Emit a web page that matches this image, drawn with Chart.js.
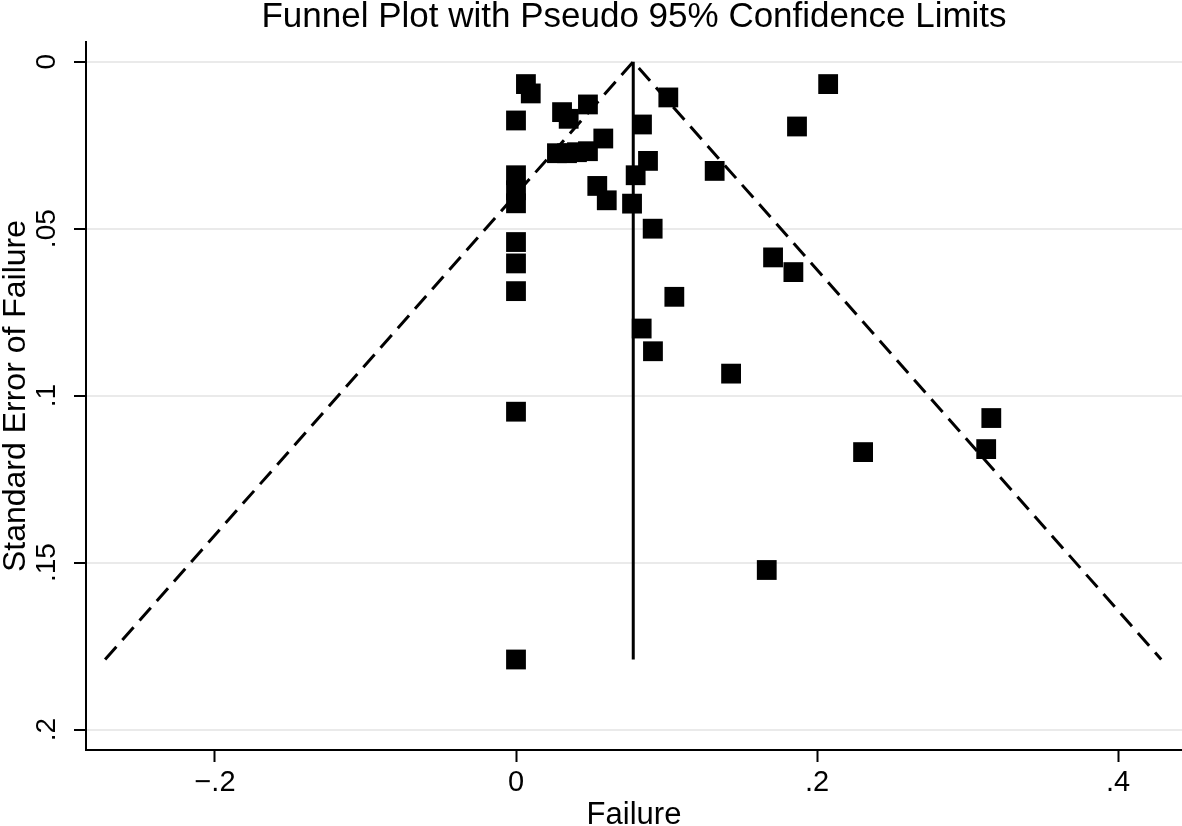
<!DOCTYPE html>
<html>
<head>
<meta charset="utf-8">
<title>Funnel Plot with Pseudo 95% Confidence Limits</title>
<script src="https://cdn.jsdelivr.net/npm/chart.js@4.4.1/dist/chart.umd.min.js"></script>
<style>
  html, body { margin: 0; padding: 0; background: #fff; }
  #wrap { width: 1182px; height: 826px; }
</style>
</head>
<body>
<div id="wrap"><canvas id="funnel" width="1182" height="826"></canvas></div>
<script>
// --- DATA ---
// one entry per study: effect (Failure) and its standard error
const failure = [
  0.0066, 0.0098, 0, 0.0306, 0.035, 0.0478, 0.058,
  0.0272, 0.0339, 0.0405, 0.0478,
  0, 0, 0,
  0.054, 0.0603,
  0.0795, 0.0877, 0.0771, 0.0837,
  0.1012, 0.132, 0.0908,
  0, 0, 0,
  0.1052, 0.0835, 0.091, 0.1429,
  0.1708, 0.1843, 0.2074, 0.1867,
  0.2306, 0.3158, 0.3124, 0.1666,
  0, 0
];
const seFailure = [
  0.0067, 0.0095, 0.0176, 0.0151, 0.0171, 0.0128, 0.023,
  0.0274, 0.0274, 0.0271, 0.0268,
  0.034, 0.0385, 0.0424,
  0.0372, 0.0415,
  0.034, 0.0297, 0.0425, 0.0188,
  0.0107, 0.0327, 0.05,
  0.054, 0.0604, 0.0687,
  0.0704, 0.0799, 0.0867, 0.0934,
  0.0586, 0.063, 0.0067, 0.0194,
  0.1169, 0.1067, 0.116, 0.1522,
  0.1048, 0.179
];

// pooled estimate line and pseudo 95% limits (end points as drawn)
const pooledX = [0.0779, 0.0779];
const pooledY = [0, 0.179];
const limitX = [-0.273, 0.0779, 0.4287];
const limitY = [0.179, 0, 0.179];

// axes
const xRange = [-0.2857, 0.4425];
const yRange = [-0.0059, 0.2061];
const xTicks = [-0.2, 0, 0.2, 0.4];
const xTickLabels = ['\u2212.2', '0', '.2', '.4'];
const yTicks = [0, 0.05, 0.1, 0.15, 0.2];
const yTickLabels = ['0', '.05', '.1', '.15', '.2'];

// --- CHART ---
const FONT = 'Helvetica, "Liberation Sans", Arial, sans-serif';
const toPoints = (xs, ys) => xs.map((x, i) => ({ x: x, y: ys[i] }));

new Chart(document.getElementById('funnel'), {
  type: 'scatter',
  data: {
    datasets: [
      {
        label: 'studies',
        data: toPoints(failure, seFailure),
        pointStyle: 'rect',
        pointRadius: 14,
        pointBackgroundColor: '#000',
        pointBorderWidth: 0,
        showLine: false
      },
      {
        label: 'pooled',
        data: toPoints(pooledX, pooledY),
        showLine: true,
        borderColor: '#000',
        borderWidth: 3,
        pointRadius: 0
      },
      {
        label: 'limits',
        data: toPoints(limitX, limitY),
        showLine: true,
        borderColor: '#000',
        borderWidth: 3,
        borderDash: [17, 9],
        pointRadius: 0
      }
    ]
  },
  options: {
    responsive: false,
    animation: false,
    devicePixelRatio: 1,
    layout: { padding: 0, autoPadding: false },
    plugins: {
      legend: { display: false },
      tooltip: { enabled: false },
      title: {
        display: true,
        text: 'Funnel Plot with Pseudo 95% Confidence Limits',
        color: '#000',
        fullSize: false,
        font: { family: FONT, size: 35, weight: 'normal', lineHeight: 1 },
        padding: { top: 0, bottom: 7 }
      }
    },
    scales: {
      x: {
        type: 'linear',
        min: xRange[0],
        max: xRange[1],
        afterBuildTicks: s => { s.ticks = xTicks.map(v => ({ value: v })); },
        afterFit: s => { s.height = 76; },
        ticks: {
          autoSkip: false,
          maxRotation: 0,
          padding: 4,
          color: '#000',
          font: { family: FONT, size: 29 },
          callback: (v, i) => xTickLabels[i]
        },
        grid: { drawOnChartArea: false, tickLength: 12, tickColor: '#000', tickWidth: 2 },
        border: { display: true, color: '#000', width: 2 },
        title: {
          display: true,
          text: 'Failure',
          color: '#000',
          font: { family: FONT, size: 31, lineHeight: 1 },
          padding: { top: 0, bottom: -5 }
        }
      },
      y: {
        type: 'linear',
        reverse: true,
        min: yRange[0],
        max: yRange[1],
        afterBuildTicks: s => { s.ticks = yTicks.map(v => ({ value: v })); },
        afterFit: s => { s.width = 86; },
        ticks: {
          autoSkip: false,
          minRotation: 90,
          maxRotation: 90,
          crossAlign: 'center',
          padding: 7,
          color: '#000',
          font: { family: FONT, size: 28 },
          callback: (v, i) => yTickLabels[i]
        },
        grid: { color: '#eaeaea', lineWidth: 2, tickLength: 12, tickColor: '#000', tickWidth: 2 },
        border: { display: true, color: '#000', width: 2 },
        title: {
          display: true,
          text: 'Standard Error of Failure',
          color: '#000',
          font: { family: FONT, size: 32, lineHeight: 1 },
          padding: { top: 0, bottom: 0 }
        }
      }
    }
  }
});
</script>
</body>
</html>
